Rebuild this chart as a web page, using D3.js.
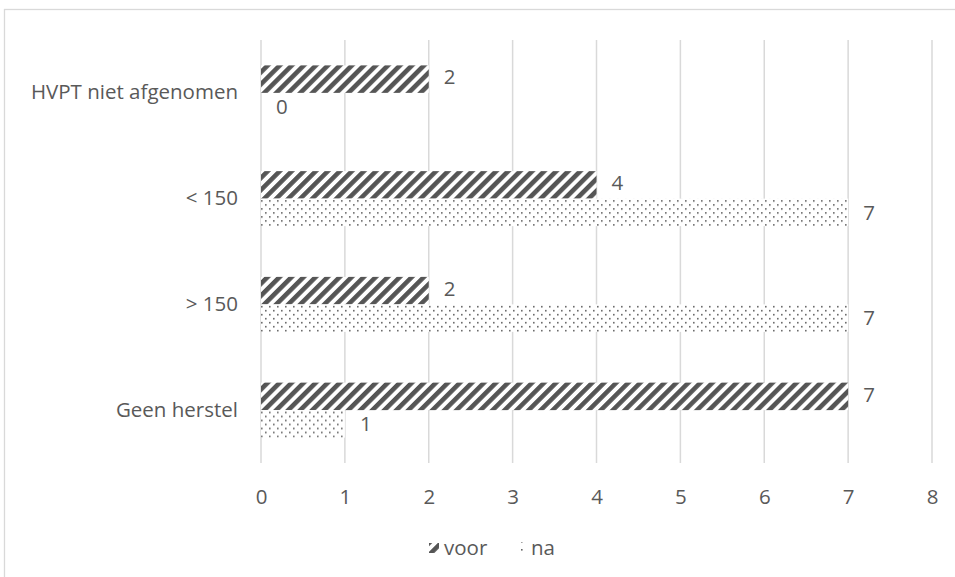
<!DOCTYPE html>
<html>
<head>
<meta charset="utf-8">
<script src="https://cdn.jsdelivr.net/npm/d3@7"></script>
<style>
  html, body { margin: 0; padding: 0; background: #fff; }
  svg { display: block; font-family: "Open Sans", "Segoe UI", sans-serif; }
</style>
</head>
<body>
<svg id="chart" width="955" height="577"></svg>
<script>
// Categories (top to bottom) and the two series
const categories = ["HVPT niet afgenomen", "< 150", "> 150", "Geen herstel"];
const seriesNames = ["voor", "na"];
const voor = [2, 4, 2, 7];
const na = [0, 7, 7, 1];
const xTicks = [0, 1, 2, 3, 4, 5, 6, 7, 8];

const rows = categories.map((c, i) => ({ category: c, voor: voor[i], na: na[i] }));

const svg = d3.select("#chart");
const textColor = "#595959";
const gridColor = "#d9d9d9";
const fontSize = 20.5;

// Fill patterns: diagonal hatch for "voor", fine dots for "na"
const defs = svg.append("defs");
const hatch = defs.append("pattern")
  .attr("id", "hatch")
  .attr("patternUnits", "userSpaceOnUse")
  .attr("width", 8.5).attr("height", 8.5)
  .attr("patternTransform", "rotate(45)");
hatch.append("rect").attr("width", 8.5).attr("height", 8.5).attr("fill", "#fff");
hatch.append("rect").attr("x", 0).attr("y", 0).attr("width", 4.6).attr("height", 8.5).attr("fill", "#555");

const dots = defs.append("pattern")
  .attr("id", "dots")
  .attr("patternUnits", "userSpaceOnUse")
  .attr("width", 8).attr("height", 8);
dots.append("rect").attr("width", 8).attr("height", 8).attr("fill", "#fff");
dots.append("rect").attr("x", 1).attr("y", 1).attr("width", 1.6).attr("height", 1.6).attr("fill", "#666");
dots.append("rect").attr("x", 5).attr("y", 5).attr("width", 1.6).attr("height", 1.6).attr("fill", "#666");

const fills = { voor: "url(#hatch)", na: "url(#dots)" };

// Chart area frame
svg.append("rect")
  .attr("x", 4.5).attr("y", 9.5)
  .attr("width", 1000).attr("height", 700)
  .attr("fill", "none").attr("stroke", "#d9d9d9").attr("stroke-width", 1.3);

// Scales
const x = d3.scaleLinear().domain([0, 8]).range([261, 932]);
const y = d3.scaleBand().domain(categories).range([40, 463])
  .paddingInner(0.48).paddingOuter(0.24);
const ySub = d3.scaleBand().domain(seriesNames).range([0, y.bandwidth()]);

// Vertical gridlines
svg.append("g")
  .selectAll("line")
  .data(xTicks)
  .join("line")
  .attr("x1", d => x(d)).attr("x2", d => x(d))
  .attr("y1", 40).attr("y2", 463)
  .attr("stroke", gridColor).attr("stroke-width", 1.5);

// X axis labels
const xAxis = d3.axisBottom(x).tickValues(xTicks).tickSize(0).tickPadding(0).tickFormat(d3.format("d"));
const gx = svg.append("g").attr("transform", "translate(0,489)").call(xAxis);
gx.select(".domain").remove();
gx.selectAll("text")
  .attr("fill", textColor).attr("font-size", fontSize)
  .attr("font-family", "'Open Sans', sans-serif");

// Y axis labels
const yAxis = d3.axisLeft(y).tickSize(0).tickPadding(0);
const gy = svg.append("g").attr("transform", "translate(238,0)").call(yAxis);
gy.select(".domain").remove();
gy.selectAll("text")
  .attr("fill", textColor).attr("font-size", fontSize)
  .attr("font-family", "'Open Sans', sans-serif");

// Bars
const groups = svg.append("g").selectAll("g")
  .data(rows)
  .join("g")
  .attr("transform", d => `translate(0,${y(d.category)})`);

groups.selectAll("rect")
  .data(d => seriesNames.map(s => ({ series: s, value: d[s] })))
  .join("rect")
  .attr("x", x(0))
  .attr("y", d => ySub(d.series))
  .attr("width", d => x(d.value) - x(0))
  .attr("height", ySub.bandwidth())
  .attr("fill", d => fills[d.series]);

// Value labels
groups.selectAll("text")
  .data(d => seriesNames.map(s => ({ series: s, value: d[s] })))
  .join("text")
  .attr("x", d => x(d.value) + 15)
  .attr("y", d => ySub(d.series) + ySub.bandwidth() / 2 + (d.series === "voor" ? -2 : 0))
  .attr("dy", "0.35em")
  .attr("fill", textColor).attr("font-size", fontSize)
  .text(d => d.value);

// Legend
const legend = svg.append("g").attr("transform", "translate(0,548)");
const legendItems = [
  { name: "voor", x: 429, w: 10, h: 10, textX: 444 },
  { name: "na", x: 519, w: 4, h: 12, textX: 531 }
];
legendItems.forEach(item => {
  legend.append("rect")
    .attr("x", item.x).attr("y", -item.h / 2)
    .attr("width", item.w).attr("height", item.h)
    .attr("fill", fills[item.name]);
  legend.append("text")
    .attr("x", item.textX).attr("y", 0).attr("dy", "0.35em")
    .attr("fill", textColor).attr("font-size", fontSize)
    .text(item.name);
});
</script>
</body>
</html>
